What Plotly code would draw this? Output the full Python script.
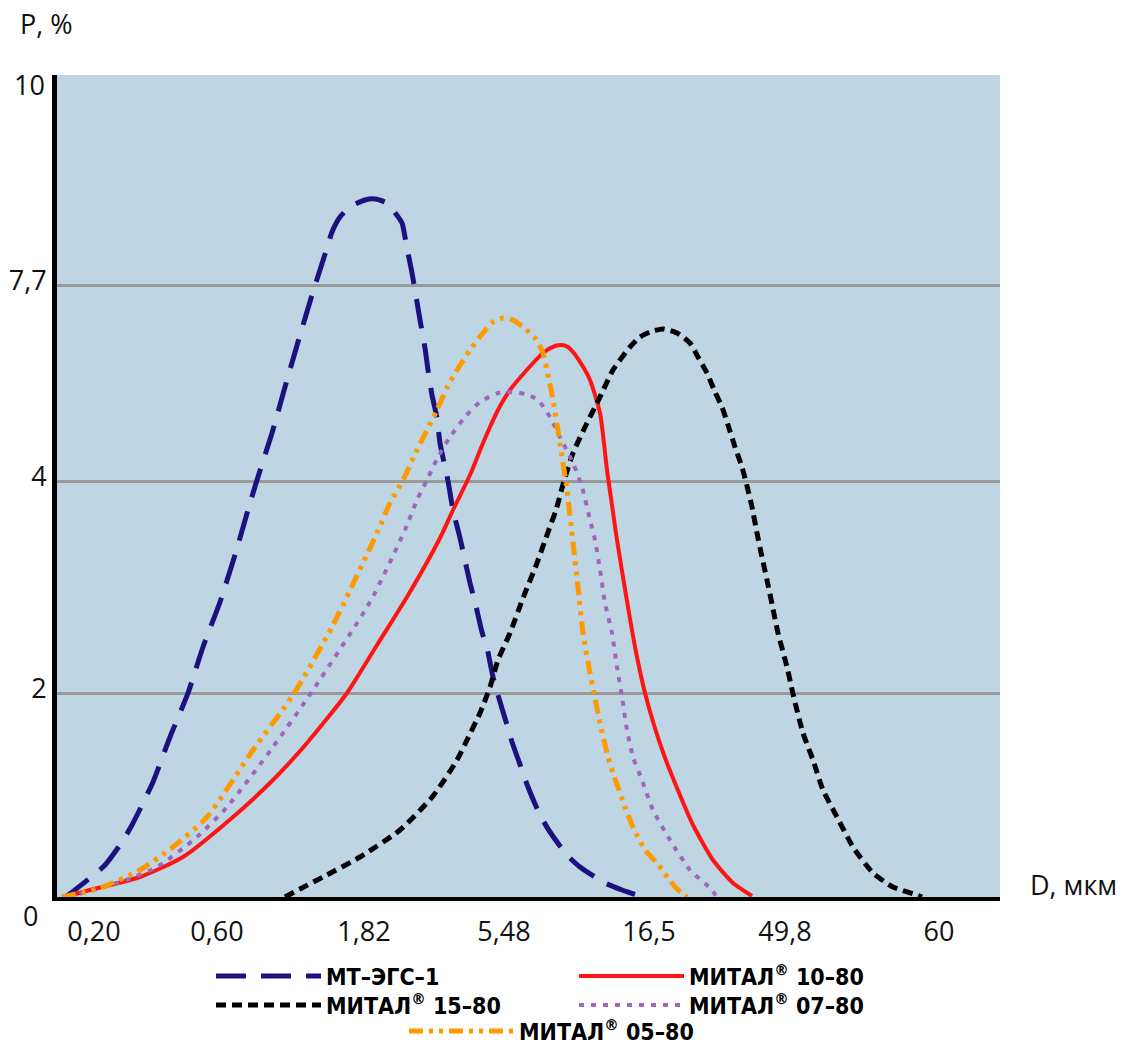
import plotly.graph_objects as go

# Axis positions are in chart units (plot area 0..9.43 wide, 0..8.22 high);
# the reference uses a non-linear, labelled scale on both axes.
X_TICK_LABELS = ["0,20", "0,60", "1,82", "5,48", "16,5", "49,8", "60"]
X_TICK_POS = [0.37, 1.60, 3.07, 4.47, 5.92, 7.28, 8.82]
Y_TICK_LABELS = ["2", "4", "7,7"]
Y_TICK_POS = [2.04, 4.16, 6.12]

mt_x = [0.07, 0.11, 0.33, 0.48, 0.65, 0.75, 0.96, 1.13, 1.31, 1.46, 1.63, 1.78, 1.91, 2.00, 2.15, 2.28,
        2.41, 2.55, 2.70, 2.75, 2.83, 2.93, 3.08, 3.18, 3.30, 3.36, 3.45, 3.48, 3.51, 3.55, 3.60, 3.63,
        3.68, 3.71, 3.75, 3.80, 3.83, 3.91, 3.96, 4.03, 4.13, 4.18, 4.25, 4.30, 4.36, 4.41, 4.50, 4.55,
        4.65, 4.71, 4.83, 4.93, 5.10, 5.23, 5.48, 5.65, 5.83]
mt_y = [0.00, 0.02, 0.19, 0.32, 0.55, 0.72, 1.15, 1.60, 2.04, 2.50, 2.95, 3.42, 3.87, 4.17, 4.64, 5.10,
        5.55, 6.02, 6.49, 6.65, 6.80, 6.90, 6.97, 6.98, 6.94, 6.87, 6.74, 6.60, 6.44, 6.24, 5.95, 5.77,
        5.49, 5.27, 5.02, 4.79, 4.54, 4.16, 3.87, 3.59, 3.14, 2.95, 2.65, 2.49, 2.20, 2.02, 1.72, 1.55,
        1.27, 1.10, 0.82, 0.65, 0.42, 0.30, 0.14, 0.07, 0.01]

m10_x = [0.08, 0.33, 0.83, 1.26, 1.76, 2.16, 2.50, 2.90, 3.20, 3.50, 3.83, 3.96, 4.13, 4.26, 4.33, 4.41,
         4.53, 4.68, 4.86, 4.98, 5.05, 5.11, 5.16, 5.25, 5.33, 5.43, 5.50, 5.55, 5.60, 5.71, 5.79, 5.88,
         5.97, 6.07, 6.20, 6.36, 6.56, 6.76, 6.95]
m10_y = [0.00, 0.07, 0.20, 0.40, 0.80, 1.17, 1.54, 2.04, 2.52, 3.00, 3.59, 3.87, 4.22, 4.54, 4.70, 4.87,
         5.07, 5.25, 5.44, 5.51, 5.52, 5.50, 5.45, 5.32, 5.17, 4.84, 4.27, 3.92, 3.57, 2.90, 2.45, 2.04,
         1.72, 1.42, 1.09, 0.72, 0.37, 0.14, 0.01]

m15_x = [2.28, 2.43, 2.66, 3.03, 3.43, 3.76, 4.00, 4.10, 4.23, 4.33, 4.41, 4.53, 4.66, 4.80, 4.90, 4.99,
         5.07, 5.16, 5.30, 5.43, 5.56, 5.73, 5.83, 5.93, 6.06, 6.20, 6.33, 6.41, 6.50, 6.58, 6.65, 6.71,
         6.78, 6.85, 6.89, 6.95, 7.00, 7.05, 7.10, 7.15, 7.21, 7.30, 7.36, 7.46, 7.56, 7.66, 7.80, 7.96,
         8.16, 8.36, 8.60, 8.65]
m15_y = [0.00, 0.08, 0.20, 0.40, 0.67, 1.01, 1.37, 1.57, 1.84, 2.10, 2.37, 2.64, 2.99, 3.34, 3.62, 3.87,
         4.16, 4.44, 4.74, 5.00, 5.27, 5.50, 5.60, 5.65, 5.68, 5.64, 5.54, 5.40, 5.24, 5.05, 4.90, 4.72,
         4.50, 4.30, 4.15, 3.90, 3.64, 3.40, 3.17, 2.93, 2.64, 2.30, 2.03, 1.64, 1.37, 1.07, 0.80, 0.50,
         0.24, 0.10, 0.02, 0.00]

m07_x = [0.11, 0.63, 1.00, 1.40, 1.70, 2.16, 2.56, 3.13, 3.48, 3.60, 3.70, 3.81, 3.93, 4.08, 4.23, 4.41,
         4.53, 4.68, 4.81, 4.93, 5.03, 5.16, 5.25, 5.33, 5.38, 5.43, 5.48, 5.55, 5.60, 5.65, 5.70, 5.76,
         5.85, 5.96, 6.13, 6.33, 6.53, 6.60]
m07_y = [0.00, 0.15, 0.30, 0.60, 0.90, 1.50, 2.07, 2.95, 3.67, 3.97, 4.17, 4.40, 4.60, 4.80, 4.95, 5.04,
         5.05, 5.03, 4.97, 4.80, 4.60, 4.34, 4.10, 3.77, 3.57, 3.27, 2.94, 2.64, 2.30, 2.00, 1.67, 1.40,
         1.17, 0.87, 0.57, 0.27, 0.09, 0.00]

m05_x = [0.05, 0.43, 0.83, 1.16, 1.50, 1.96, 2.36, 2.76, 3.20, 3.33, 3.46, 3.60, 3.70, 3.80, 3.90, 4.00,
         4.13, 4.26, 4.36, 4.46, 4.56, 4.66, 4.78, 4.86, 4.91, 4.96, 5.03, 5.10, 5.16, 5.21, 5.26, 5.33,
         5.37, 5.43, 5.50, 5.56, 5.68, 5.76, 5.88, 6.00, 6.11, 6.20, 6.30]
m05_y = [0.00, 0.09, 0.27, 0.50, 0.80, 1.47, 2.02, 2.72, 3.64, 3.94, 4.17, 4.47, 4.67, 4.87, 5.09, 5.27,
         5.47, 5.64, 5.75, 5.79, 5.77, 5.70, 5.59, 5.44, 5.22, 4.97, 4.54, 4.07, 3.54, 3.10, 2.64, 2.24,
         2.04, 1.74, 1.44, 1.24, 0.90, 0.70, 0.47, 0.34, 0.19, 0.08, 0.00]

SERIES = [
    ("МТ–ЭГС–1", mt_x, mt_y, "#1B1280", 5, "30px,15px", "legend"),
    ("МИТАЛ<sup>®</sup> 10–80", m10_x, m10_y, "#FF1414", 4, "solid", "legend2"),
    ("МИТАЛ<sup>®</sup> 15–80", m15_x, m15_y, "#000000", 5, "10px,6px", "legend3"),
    ("МИТАЛ<sup>®</sup> 07–80", m07_x, m07_y, "#A066BE", 4, "5px,7px", "legend4"),
    ("МИТАЛ<sup>®</sup> 05–80", m05_x, m05_y, "#FF9900", 5, "14px,6px,4px,6px,4px,6px", "legend5"),
]

fig = go.Figure()
for name, xs, ys, color, w, dash, lg in SERIES:
    fig.add_trace(go.Scatter(
        x=xs, y=ys, mode="lines", name=name, legend=lg,
        line=dict(color=color, width=w, dash=dash, shape="spline", smoothing=0.6),
    ))

TICK_FONT = dict(family="Open Sans, Noto Sans, sans-serif", size=27, color="#111111")
LEG_FONT = dict(family="Liberation Sans Narrow, DejaVu Sans Condensed, sans-serif", size=23,
                color="#000000", weight="bold")

W, H = 1123, 1045
L, R, T, B = 57, 123, 75, 148
PW, PH = W - L - R, H - T - B
ITEM_W = 105


def px(xp):
    return (xp - L) / PW


def py(yp):
    return (H - B - yp) / PH


leg_common = dict(orientation="h", font=LEG_FONT, bgcolor="rgba(0,0,0,0)",
                  itemwidth=ITEM_W, xanchor="left", yanchor="middle")
legend_pos = {
    "legend": (327, 976),
    "legend2": (690, 976),
    "legend3": (327, 1005),
    "legend4": (690, 1005),
    "legend5": (520, 1031),
}
legends = {}
for k, (tx, ty) in legend_pos.items():
    legends[k] = dict(leg_common, x=px(tx - ITEM_W - 11), y=py(ty))

fig.update_layout(
    width=W, height=H,
    margin=dict(l=L, r=R, t=T, b=B, pad=0, autoexpand=False),
    paper_bgcolor="white",
    plot_bgcolor="#BED5E4",
    showlegend=True,
    **legends,
    xaxis=dict(range=[0, 9.43], tickmode="array", tickvals=X_TICK_POS, ticktext=X_TICK_LABELS,
               showgrid=False, zeroline=False, showline=True, linecolor="black", linewidth=4,
               ticks="", tickfont=TICK_FONT, ticklabelstandoff=8, fixedrange=True,
               automargin=False),
    yaxis=dict(range=[0, 8.22], tickmode="array", tickvals=Y_TICK_POS, ticktext=Y_TICK_LABELS,
               showgrid=True, gridcolor="#9A9A9A", gridwidth=2.5, zeroline=False,
               showline=True, linecolor="black", linewidth=5, ticks="", tickfont=TICK_FONT,
               ticklabelstandoff=0, ticklabelshift=-4, fixedrange=True, automargin=False),
    annotations=[
        dict(text="P, %", x=px(18), y=py(24), xref="paper", yref="paper", xanchor="left",
             yanchor="middle", showarrow=False, font=TICK_FONT),
        dict(text="10", x=px(47), y=py(84), xref="paper", yref="paper", xanchor="right",
             yanchor="middle", showarrow=False, font=TICK_FONT),
        dict(text="0", x=px(30), y=py(915), xref="paper", yref="paper", xanchor="center",
             yanchor="middle", showarrow=False, font=TICK_FONT),
        dict(text="D, мкм", x=px(1028), y=py(884), xref="paper", yref="paper", xanchor="left",
             yanchor="middle", showarrow=False, font=TICK_FONT),
    ],
)

fig.write_html(
    "out.html",
    config={"displayModeBar": False},
    post_script="document.body.style.margin='0';document.body.style.overflow='hidden';"
                "document.documentElement.style.overflow='hidden';",
)
